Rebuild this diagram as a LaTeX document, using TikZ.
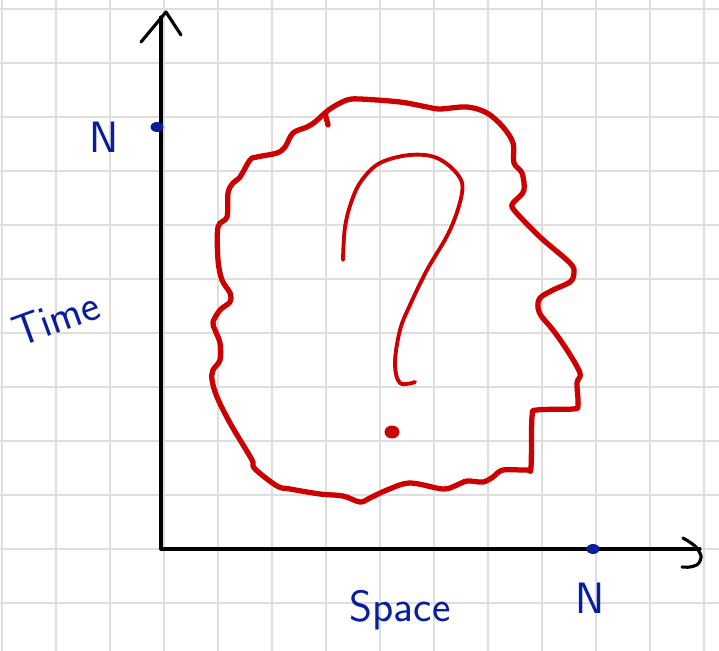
\documentclass[tikz,border=0pt]{standalone}
\usepackage{xcolor}
\usepackage{tikz}
\usetikzlibrary{shapes.geometric, positioning}

\definecolor{inkred}{RGB}{204,0,0}
\definecolor{inkblue}{RGB}{8,30,158}
\definecolor{gridgray}{RGB}{222,222,222}

\begin{document}
\begin{tikzpicture}[
    x=0.02cm, y=-0.02cm,
    gridline/.style={gridgray, line width=0.6pt},
    axis/.style={black, line width=1.8pt, line cap=round, line join=round},
    blob/.style={inkred, line width=3pt, line cap=round, line join=round},
    qmark/.style={inkred, line width=2.2pt, line cap=round, line join=round},
    bluedot/.style={ellipse, fill=inkblue, inner sep=0pt, minimum width=0.26cm,
                    minimum height=0.2cm},
    reddot/.style={ellipse, fill=inkred, inner sep=0pt, minimum width=0.3cm,
                   minimum height=0.26cm},
    handlabel/.style={text=inkblue, inner sep=0pt,
                      font=\fontsize{25}{28}\selectfont\sffamily},
]

% Paper
\fill[white] (0,0) rectangle (719,651);
\useasboundingbox (0,0) rectangle (719,651);
\foreach \gx in {2,56,...,704}
    \draw[gridline] (\gx,0) -- (\gx,651);
\foreach \gy in {9,63,...,603}
    \draw[gridline] (0,\gy) -- (719,\gy);

% Axes
\coordinate (origin) at (161,549);
\coordinate (ytop) at (161,17);
\coordinate (xend) at (700,549);
\draw[axis] (origin) -- (ytop);
\draw[axis] (origin) -- (xend);
\draw[axis] (141,42) -- (166,12) -- (181,35);
\draw[axis] plot[smooth] coordinates {(683,538) (695,546) (701,556) (698,564) (690,567) (682,567)};

% Marks on the axes
\node[bluedot] (tmax) at (157,127) {};
\node[bluedot] (smax) at (593,549) {};
\node[handlabel] (tN) at (104,137) {N};
\node[handlabel] (sN) at (590,598) {N};

% Axis names
\node[handlabel, rotate=20] (time) at (56,318) {Time};
\node[handlabel] (space) at (400,610) {Space};

% The unknown region
\draw[blob] plot[smooth cycle, tension=0.55] coordinates {
    (325,113) (333,107) (347,100) (360,99) (400,102) (427,107) (440,109)
    (467,107) (487,113) (503,127) (513,143) (514,163) (522,173) (524,190)
    (517,199) (513,203) (514,210) (540,237) (570,263) (574,273) (570,282)
    (553,290) (540,298) (538,308) (542,317) (553,330) (567,350) (580,373)
    (577,383) (578,405) (573,409) (537,410) (532,417) (531,467) (527,470)
    (503,470) (493,477) (483,482) (467,481) (457,485) (443,489) (410,483)
    (387,490) (370,498) (360,502) (343,496) (320,494) (290,489) (277,486)
    (255,469) (253,462) (248,453) (230,423) (217,397) (212,380) (213,370)
    (220,360) (220,343) (215,330) (213,322) (220,310) (230,302) (230,293)
    (222,280) (218,260) (218,227) (227,217) (228,193) (233,183) (240,177)
    (250,160) (257,157) (277,153) (285,147) (293,133) (307,127) (315,122)};
\draw[blob] (325,113) -- (328,125);

% Question mark
\draw[qmark] plot[smooth, tension=0.6] coordinates {
    (343,260) (345,227) (352,200) (362,180) (380,163) (410,155) (437,158)
    (458,175) (462,193) (450,230) (427,270) (410,305) (400,330) (395,363)
    (400,383) (415,382)};
\node[reddot] (qdot) at (392,432) {};

\end{tikzpicture}
\end{document}
